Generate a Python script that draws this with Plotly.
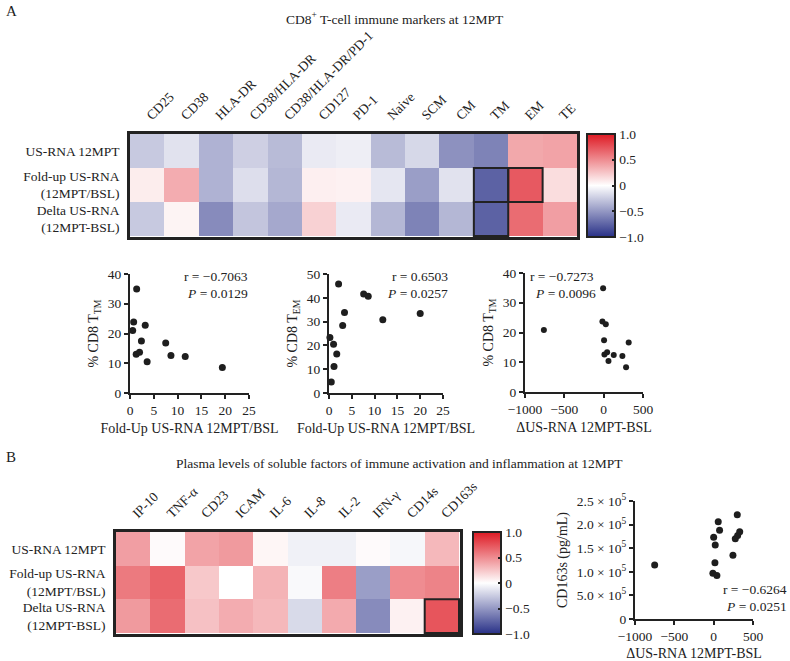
import plotly.graph_objects as go

W, H = 790, 661
FONT = "Liberation Serif"
INK = "#222222"

# ---------------- data ----------------
rows_a = ["US-RNA 12MPT", "Fold-up US-RNA<br>(12MPT/BSL)", "Delta US-RNA<br>(12MPT-BSL)"]
cols_a = ["CD25", "CD38", "HLA-DR", "CD38/HLA-DR", "CD38/HLA-DR/PD-1", "CD127", "PD-1",
          "Naive", "SCM", "CM", "TM", "EM", "TE"]
z_a_usrna = [-0.26, -0.14, -0.37, -0.23, -0.33, -0.10, -0.08, -0.33, -0.19, -0.53, -0.60, 0.38, 0.40]
z_a_fold = [0.08, 0.36, -0.37, -0.16, -0.35, 0.07, 0.06, -0.12, -0.47, -0.14, -0.76, 0.72, 0.15]
z_a_delta = [-0.26, 0.05, -0.56, -0.28, -0.42, 0.20, -0.10, -0.35, -0.60, -0.35, -0.76, 0.64, 0.42]

cols_b = ["IP-10", "TNF-α", "CD23", "ICAM", "IL-6", "IL-8", "IL-2", "IFN-γ", "CD14s", "CD163s"]
z_b_usrna = [0.42, 0.02, 0.40, 0.44, 0.04, -0.07, -0.07, 0.02, -0.04, 0.31]
z_b_fold = [0.58, 0.68, 0.24, 0.00, 0.33, -0.03, 0.56, -0.47, 0.50, 0.54]
z_b_delta = [0.44, 0.64, 0.27, 0.36, 0.31, -0.18, 0.37, -0.56, 0.06, 0.74]

# highlighted cells (row index, column index)
hl_a = [(1, 10), (1, 11), (2, 10)]
hl_b = [(2, 9)]

# scatter 1: fold-up vs %TM
s1_x = [1.4, 0.77, 0.56, 3.2, 2.4, 1.3, 2.0, 3.6, 7.5, 8.6, 11.6, 19.4]
s1_y = [35.0, 23.9, 21.0, 22.8, 17.5, 13.0, 13.7, 10.5, 16.8, 12.6, 12.3, 8.6]
# scatter 2: fold-up vs %EM
s2_x = [2.1, 7.6, 8.6, 3.4, 3.0, 11.8, 20.0, 0.2, 1.0, 1.7, 1.1, 0.5]
s2_y = [45.8, 41.6, 40.7, 33.8, 28.4, 30.8, 33.4, 23.3, 20.5, 16.4, 11.1, 4.6]
# scatter 3: delta vs %TM
s3_x = [-7, -760, -16, 27, 5, 318, 10, 44, 61, 128, 238, 285]
s3_y = [34.9, 20.8, 23.7, 22.8, 17.4, 16.6, 12.6, 13.4, 10.4, 12.4, 12.1, 8.3]
# scatter B: delta vs CD163s
sb_x = [-750, 300, 58, 75, 0, 20, 16, -10, 41, 245, 275, 305, 331]
sb_y = [114500, 221000, 206000, 188000, 173000, 157000, 119000, 97000, 92000, 135000, 170000, 177000, 185000]

cb_vals = [-1, -0.5, 0, 0.5, 1]
cb_text = ["−1.0", "−0.5", "0", "0.5", "1.0"]
sb_yvals = [0, 50000, 100000, 150000, 200000, 250000]
sb_ytext = ["0", "5.0 × 10<sup>5</sup>", "1.0 × 10<sup>5</sup>", "1.5 × 10<sup>5</sup>",
            "2.0 × 10<sup>5</sup>", "2.5 × 10<sup>5</sup>"]

stats = [
    ("r = −0.7063", "<i>P</i> = 0.0129"),
    ("r = 0.6503", "<i>P</i> = 0.0257"),
    ("r = −0.7273", "<i>P</i> = 0.0096"),
    ("r = −0.6264", "<i>P</i> = 0.0251"),
]

# ---------------- helpers ----------------
def px_x(a, b):
    return [a / W, b / W]

def px_y(top, bottom):
    return [1 - bottom / H, 1 - top / H]

colorscale = [[0, "rgb(40,48,135)"], [0.5, "rgb(255,255,255)"], [1, "rgb(222,25,35)"]]

fig = go.Figure()

def colorbar(x_px, top, bottom):
    return dict(
        x=x_px / W, xanchor="left", xpad=0, ypad=0,
        y=1 - (top + bottom) / 2 / H, yanchor="middle",
        len=bottom - top, lenmode="pixels", thickness=28,
        outlinewidth=2, outlinecolor=INK,
        tickvals=cb_vals, ticktext=cb_text, ticks="inside", ticklen=4,
        tickwidth=2, tickcolor=INK, tickfont=dict(size=13.5, color=INK, family=FONT),
    )

fig.add_trace(go.Heatmap(
    z=[z_a_usrna, z_a_fold, z_a_delta], x=cols_a, y=rows_a,
    zmin=-1, zmax=1, colorscale=colorscale, xaxis="x", yaxis="y",
    colorbar=colorbar(587, 134, 237), hoverinfo="skip",
))
fig.add_trace(go.Heatmap(
    z=[z_b_usrna, z_b_fold, z_b_delta], x=cols_b, y=rows_a,
    zmin=-1, zmax=1, colorscale=colorscale, xaxis="x5", yaxis="y5",
    colorbar=colorbar(473, 532, 634), hoverinfo="skip",
))

mk = dict(color="#1e1e1e", size=7)
fig.add_trace(go.Scatter(x=s1_x, y=s1_y, mode="markers", marker=mk, xaxis="x2", yaxis="y2", cliponaxis=False))
fig.add_trace(go.Scatter(x=s2_x, y=s2_y, mode="markers", marker=mk, xaxis="x3", yaxis="y3", cliponaxis=False))
fig.add_trace(go.Scatter(x=s3_x, y=s3_y, mode="markers", marker=dict(color="#1e1e1e", size=6),
                         xaxis="x4", yaxis="y4", cliponaxis=False))
fig.add_trace(go.Scatter(x=sb_x, y=sb_y, mode="markers", marker=mk, xaxis="x6", yaxis="y6", cliponaxis=False))

tickfont = dict(size=13.5, color=INK, family=FONT)

def hm_x(domain, anchor):
    return dict(domain=domain, anchor=anchor, side="top", tickangle=-45, showline=True,
                mirror=True, linewidth=2.5, linecolor=INK, ticks="", showgrid=False,
                zeroline=False, tickfont=tickfont, ticklabelstandoff=3, automargin=False)

def hm_y(domain, anchor):
    return dict(domain=domain, anchor=anchor, autorange="reversed", showline=True,
                mirror=True, linewidth=2.5, linecolor=INK, ticks="", showgrid=False,
                zeroline=False, tickfont=tickfont, ticklabelstandoff=5, automargin=False)

def sc_axis(domain, anchor, rng, dtick=None, title=None, standoff=6, **kw):
    d = dict(domain=domain, anchor=anchor, range=rng, showline=True, linewidth=2,
             linecolor=INK, ticks="outside", ticklen=4, tickwidth=2, tickcolor=INK,
             showgrid=False, zeroline=False, automargin=False,
             tickfont=dict(size=13.5, color=INK, family=FONT))
    if dtick is not None:
        d["dtick"] = dtick
        d["tick0"] = 0
    if title:
        d["title"] = dict(text=title, font=dict(size=14, color=INK, family=FONT), standoff=standoff)
    d.update(kw)
    return d

fig.update_layout(
    template="none",
    width=W, height=H, margin=dict(l=0, r=0, t=0, b=0, autoexpand=False),
    paper_bgcolor="white", plot_bgcolor="rgba(0,0,0,0)",
    font=dict(family=FONT, color=INK), showlegend=False,
    xaxis=hm_x(px_x(130, 577), "y"),
    yaxis=hm_y(px_y(134, 237), "x"),
    xaxis5=hm_x(px_x(116, 460), "y5"),
    yaxis5=hm_y(px_y(532, 634), "x5"),
    xaxis2=sc_axis(px_x(130, 249), "y2", [0, 25], 5, "Fold-Up US-RNA 12MPT/BSL"),
    yaxis2=sc_axis(px_y(274, 393), "x2", [0, 40], 10, "% CD8 T<sub>TM</sub>"),
    xaxis3=sc_axis(px_x(329, 443), "y3", [0, 25], 5, "Fold-Up US-RNA 12MPT/BSL"),
    yaxis3=sc_axis(px_y(274, 393), "x3", [0, 50], 10, "% CD8 T<sub>EM</sub>"),
    xaxis4=sc_axis(px_x(525, 643), "y4", [-1000, 500], 500, "ΔUS-RNA 12MPT-BSL"),
    yaxis4=sc_axis(px_y(273, 392), "x4", [0, 40], 10, "% CD8 T<sub>TM</sub>"),
    xaxis6=sc_axis(px_x(635, 753), "y6", [-1000, 500], 500, "ΔUS-RNA 12MPT-BSL"),
    yaxis6=sc_axis(px_y(501, 619), "x6", [0, 250000], None, "CD163s (pg/mL)",
                   tickvals=sb_yvals, ticktext=sb_ytext),
)

# frames around highlighted cells
for (r, c) in hl_a:
    fig.add_shape(type="rect", xref="x", yref="y", x0=c - 0.5, x1=c + 0.5, y0=r - 0.5, y1=r + 0.5,
                  line=dict(color=INK, width=2))
for (r, c) in hl_b:
    fig.add_shape(type="rect", xref="x5", yref="y5", x0=c - 0.5, x1=c + 0.5, y0=r - 0.5, y1=r + 0.5,
                  line=dict(color=INK, width=2))

def ann(text, x, y, xanchor="center", size=13.5):
    fig.add_annotation(text=text, x=x / W, y=1 - y / H, xref="paper", yref="paper",
                       xanchor=xanchor, yanchor="middle", showarrow=False,
                       font=dict(size=size, color=INK, family=FONT))

ann("A", 4, 11, "left", 15)
ann("B", 4, 457, "left", 15)
ann("CD8<sup>+</sup> T-cell immune markers at 12MPT", 395, 18, "center", 13.5)
ann("Plasma levels of soluble factors of immune activation and inflammation at 12MPT", 399, 463, "center", 13.5)

ann(stats[0][0], 250, 276, "right")
ann(stats[0][1], 250, 293, "right")
ann(stats[1][0], 450, 276, "right")
ann(stats[1][1], 450, 293, "right")
ann(stats[2][0], 528, 276, "left")
ann(stats[2][1], 533, 293, "left")
ann(stats[3][0], 789, 589, "right")
ann(stats[3][1], 789, 606, "right")

fig.write_html("out.html", config={"displayModeBar": False},
               post_script="document.body.style.margin='0px';document.body.style.overflow='hidden';")
